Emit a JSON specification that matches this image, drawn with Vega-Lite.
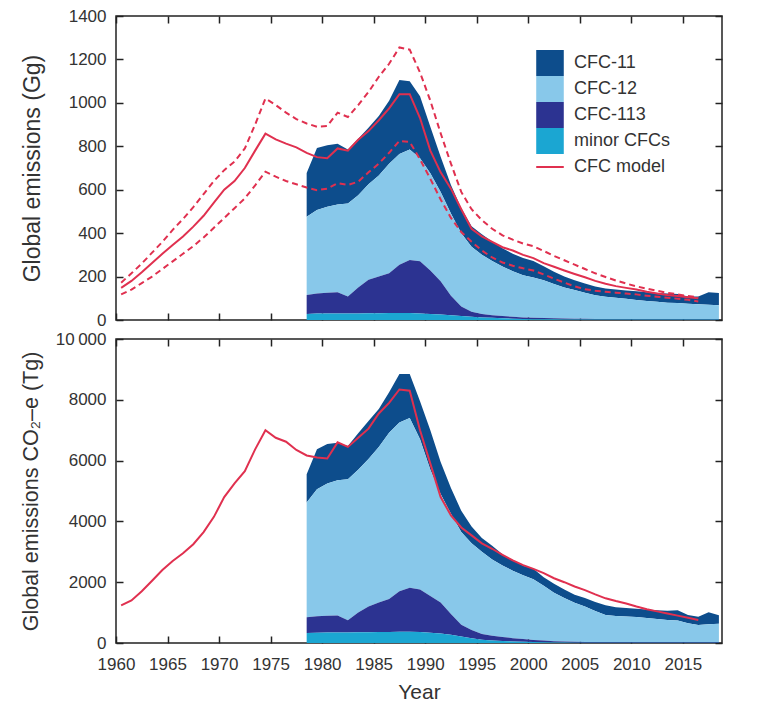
{
  "$schema": "https://vega.github.io/schema/vega-lite/v6.json",
  "padding": {"left": 19, "top": 6, "right": 4, "bottom": 4},
  "background": "white",
  "config": {
    "view": {"stroke": "#222", "strokeWidth": 1.5},
    "font": "Liberation Sans",
    "axis": {
      "grid": false,
      "domain": false,
      "tickColor": "#222",
      "tickWidth": 1.5,
      "tickSize": -7,
      "labelFont": "Liberation Sans",
      "labelFontSize": 17,
      "labelColor": "#333",
      "titleFont": "Liberation Sans",
      "titleFontSize": 20,
      "titleFontWeight": "normal",
      "titleColor": "#333"
    }
  },
  "datasets": {
    "gg": [
      {"year": 1978.5, "minor CFCs": 28, "CFC-113": 87, "CFC-12": 361, "CFC-11": 201},
      {"year": 1979.5, "minor CFCs": 30, "CFC-113": 92, "CFC-12": 385, "CFC-11": 285},
      {"year": 1980.5, "minor CFCs": 30, "CFC-113": 96, "CFC-12": 396, "CFC-11": 283},
      {"year": 1981.5, "minor CFCs": 30, "CFC-113": 98, "CFC-12": 404, "CFC-11": 280},
      {"year": 1982.5, "minor CFCs": 30, "CFC-113": 78, "CFC-12": 429, "CFC-11": 248},
      {"year": 1983.5, "minor CFCs": 30, "CFC-113": 120, "CFC-12": 425, "CFC-11": 260},
      {"year": 1984.5, "minor CFCs": 31, "CFC-113": 154, "CFC-12": 440, "CFC-11": 260},
      {"year": 1985.5, "minor CFCs": 31, "CFC-113": 169, "CFC-12": 465, "CFC-11": 275},
      {"year": 1986.5, "minor CFCs": 32, "CFC-113": 183, "CFC-12": 505, "CFC-11": 290},
      {"year": 1987.5, "minor CFCs": 32, "CFC-113": 223, "CFC-12": 510, "CFC-11": 340},
      {"year": 1988.5, "minor CFCs": 32, "CFC-113": 244, "CFC-12": 509, "CFC-11": 315},
      {"year": 1989.5, "minor CFCs": 30, "CFC-113": 240, "CFC-12": 475, "CFC-11": 285},
      {"year": 1990.5, "minor CFCs": 28, "CFC-113": 200, "CFC-12": 448, "CFC-11": 214},
      {"year": 1991.5, "minor CFCs": 25, "CFC-113": 153, "CFC-12": 412, "CFC-11": 162},
      {"year": 1992.5, "minor CFCs": 22, "CFC-113": 90, "CFC-12": 379, "CFC-11": 131},
      {"year": 1993.5, "minor CFCs": 18, "CFC-113": 44, "CFC-12": 337, "CFC-11": 116},
      {"year": 1994.5, "minor CFCs": 15, "CFC-113": 23, "CFC-12": 299, "CFC-11": 95},
      {"year": 1995.5, "minor CFCs": 12, "CFC-113": 16, "CFC-12": 272, "CFC-11": 95},
      {"year": 1996.5, "minor CFCs": 10, "CFC-113": 12, "CFC-12": 250, "CFC-11": 90},
      {"year": 1997.5, "minor CFCs": 8, "CFC-113": 10, "CFC-12": 228, "CFC-11": 84},
      {"year": 1998.5, "minor CFCs": 6, "CFC-113": 9, "CFC-12": 210, "CFC-11": 80},
      {"year": 1999.5, "minor CFCs": 5, "CFC-113": 7, "CFC-12": 194, "CFC-11": 79},
      {"year": 2000.5, "minor CFCs": 4, "CFC-113": 6, "CFC-12": 186, "CFC-11": 76},
      {"year": 2001.5, "minor CFCs": 3, "CFC-113": 6, "CFC-12": 174, "CFC-11": 65},
      {"year": 2002.5, "minor CFCs": 3, "CFC-113": 5, "CFC-12": 158, "CFC-11": 56},
      {"year": 2003.5, "minor CFCs": 2, "CFC-113": 5, "CFC-12": 143, "CFC-11": 50},
      {"year": 2004.5, "minor CFCs": 2, "CFC-113": 4, "CFC-12": 132, "CFC-11": 45},
      {"year": 2005.5, "minor CFCs": 2, "CFC-113": 4, "CFC-12": 120, "CFC-11": 42},
      {"year": 2006.5, "minor CFCs": 2, "CFC-113": 3, "CFC-12": 109, "CFC-11": 40},
      {"year": 2007.5, "minor CFCs": 2, "CFC-113": 3, "CFC-12": 102, "CFC-11": 38},
      {"year": 2008.5, "minor CFCs": 2, "CFC-113": 3, "CFC-12": 97, "CFC-11": 38},
      {"year": 2009.5, "minor CFCs": 2, "CFC-113": 3, "CFC-12": 93, "CFC-11": 38},
      {"year": 2010.5, "minor CFCs": 2, "CFC-113": 3, "CFC-12": 87, "CFC-11": 40},
      {"year": 2011.5, "minor CFCs": 2, "CFC-113": 3, "CFC-12": 83, "CFC-11": 40},
      {"year": 2012.5, "minor CFCs": 2, "CFC-113": 3, "CFC-12": 79, "CFC-11": 40},
      {"year": 2013.5, "minor CFCs": 2, "CFC-113": 3, "CFC-12": 75, "CFC-11": 42},
      {"year": 2014.5, "minor CFCs": 2, "CFC-113": 3, "CFC-12": 73, "CFC-11": 42},
      {"year": 2015.5, "minor CFCs": 2, "CFC-113": 3, "CFC-12": 70, "CFC-11": 33},
      {"year": 2016.5, "minor CFCs": 2, "CFC-113": 3, "CFC-12": 67, "CFC-11": 36},
      {"year": 2017.5, "minor CFCs": 2, "CFC-113": 3, "CFC-12": 65, "CFC-11": 58},
      {"year": 2018.5, "minor CFCs": 2, "CFC-113": 3, "CFC-12": 63, "CFC-11": 56}
    ],
    "tg": [
      {"year": 1978.5, "minor CFCs": 330, "CFC-113": 520, "CFC-12": 3773, "CFC-11": 928},
      {"year": 1979.5, "minor CFCs": 340, "CFC-113": 540, "CFC-12": 4180, "CFC-11": 1311},
      {"year": 1980.5, "minor CFCs": 345, "CFC-113": 555, "CFC-12": 4350, "CFC-11": 1300},
      {"year": 1981.5, "minor CFCs": 345, "CFC-113": 560, "CFC-12": 4445, "CFC-11": 1240},
      {"year": 1982.5, "minor CFCs": 345, "CFC-113": 405, "CFC-12": 4640, "CFC-11": 1090},
      {"year": 1983.5, "minor CFCs": 350, "CFC-113": 650, "CFC-12": 4700, "CFC-11": 1200},
      {"year": 1984.5, "minor CFCs": 355, "CFC-113": 845, "CFC-12": 4850, "CFC-11": 1250},
      {"year": 1985.5, "minor CFCs": 360, "CFC-113": 970, "CFC-12": 5120, "CFC-11": 1250},
      {"year": 1986.5, "minor CFCs": 365, "CFC-113": 1085, "CFC-12": 5470, "CFC-11": 1330},
      {"year": 1987.5, "minor CFCs": 370, "CFC-113": 1330, "CFC-12": 5550, "CFC-11": 1600},
      {"year": 1988.5, "minor CFCs": 370, "CFC-113": 1450, "CFC-12": 5580, "CFC-11": 1450},
      {"year": 1989.5, "minor CFCs": 360, "CFC-113": 1400, "CFC-12": 4940, "CFC-11": 1250},
      {"year": 1990.5, "minor CFCs": 340, "CFC-113": 1210, "CFC-12": 4150, "CFC-11": 1300},
      {"year": 1991.5, "minor CFCs": 310, "CFC-113": 1020, "CFC-12": 3570, "CFC-11": 1050},
      {"year": 1992.5, "minor CFCs": 270, "CFC-113": 680, "CFC-12": 3300, "CFC-11": 850},
      {"year": 1993.5, "minor CFCs": 210, "CFC-113": 390, "CFC-12": 3050, "CFC-11": 700},
      {"year": 1994.5, "minor CFCs": 160, "CFC-113": 270, "CFC-12": 2850, "CFC-11": 550},
      {"year": 1995.5, "minor CFCs": 110, "CFC-113": 190, "CFC-12": 2700, "CFC-11": 450},
      {"year": 1996.5, "minor CFCs": 85, "CFC-113": 155, "CFC-12": 2510, "CFC-11": 450},
      {"year": 1997.5, "minor CFCs": 65, "CFC-113": 135, "CFC-12": 2350, "CFC-11": 370},
      {"year": 1998.5, "minor CFCs": 50, "CFC-113": 110, "CFC-12": 2220, "CFC-11": 340},
      {"year": 1999.5, "minor CFCs": 40, "CFC-113": 90, "CFC-12": 2100, "CFC-11": 310},
      {"year": 2000.5, "minor CFCs": 30, "CFC-113": 70, "CFC-12": 2000, "CFC-11": 340},
      {"year": 2001.5, "minor CFCs": 25, "CFC-113": 55, "CFC-12": 1800, "CFC-11": 280},
      {"year": 2002.5, "minor CFCs": 20, "CFC-113": 40, "CFC-12": 1590, "CFC-11": 300},
      {"year": 2003.5, "minor CFCs": 15, "CFC-113": 35, "CFC-12": 1430, "CFC-11": 280},
      {"year": 2004.5, "minor CFCs": 12, "CFC-113": 28, "CFC-12": 1280, "CFC-11": 270},
      {"year": 2005.5, "minor CFCs": 10, "CFC-113": 25, "CFC-12": 1165, "CFC-11": 280},
      {"year": 2006.5, "minor CFCs": 10, "CFC-113": 20, "CFC-12": 1020, "CFC-11": 300},
      {"year": 2007.5, "minor CFCs": 10, "CFC-113": 20, "CFC-12": 890, "CFC-11": 320},
      {"year": 2008.5, "minor CFCs": 10, "CFC-113": 20, "CFC-12": 860, "CFC-11": 290},
      {"year": 2009.5, "minor CFCs": 10, "CFC-113": 20, "CFC-12": 840, "CFC-11": 280},
      {"year": 2010.5, "minor CFCs": 10, "CFC-113": 20, "CFC-12": 825, "CFC-11": 270},
      {"year": 2011.5, "minor CFCs": 10, "CFC-113": 20, "CFC-12": 790, "CFC-11": 280},
      {"year": 2012.5, "minor CFCs": 10, "CFC-113": 20, "CFC-12": 760, "CFC-11": 290},
      {"year": 2013.5, "minor CFCs": 10, "CFC-113": 20, "CFC-12": 730, "CFC-11": 300},
      {"year": 2014.5, "minor CFCs": 10, "CFC-113": 20, "CFC-12": 710, "CFC-11": 340},
      {"year": 2015.5, "minor CFCs": 10, "CFC-113": 20, "CFC-12": 620, "CFC-11": 270},
      {"year": 2016.5, "minor CFCs": 10, "CFC-113": 20, "CFC-12": 560, "CFC-11": 270},
      {"year": 2017.5, "minor CFCs": 10, "CFC-113": 20, "CFC-12": 590, "CFC-11": 390},
      {"year": 2018.5, "minor CFCs": 10, "CFC-113": 20, "CFC-12": 600, "CFC-11": 280}
    ],
    "model": [
      {"year": 1960.5, "mid": 148, "lo": 118, "hi": 172, "tg": 1240},
      {"year": 1961.5, "mid": 180, "lo": 140, "hi": 215, "tg": 1400},
      {"year": 1962.5, "mid": 220, "lo": 170, "hi": 260, "tg": 1700},
      {"year": 1963.5, "mid": 262, "lo": 200, "hi": 310, "tg": 2050},
      {"year": 1964.5, "mid": 305, "lo": 235, "hi": 360, "tg": 2400},
      {"year": 1965.5, "mid": 345, "lo": 270, "hi": 415, "tg": 2700},
      {"year": 1966.5, "mid": 385, "lo": 305, "hi": 465, "tg": 2950},
      {"year": 1967.5, "mid": 430, "lo": 340, "hi": 520, "tg": 3250},
      {"year": 1968.5, "mid": 480, "lo": 380, "hi": 580, "tg": 3650},
      {"year": 1969.5, "mid": 540, "lo": 425, "hi": 640, "tg": 4150},
      {"year": 1970.5, "mid": 600, "lo": 470, "hi": 690, "tg": 4800},
      {"year": 1971.5, "mid": 640, "lo": 515, "hi": 730, "tg": 5250},
      {"year": 1972.5, "mid": 700, "lo": 560, "hi": 790, "tg": 5650},
      {"year": 1973.5, "mid": 780, "lo": 620, "hi": 900, "tg": 6370},
      {"year": 1974.5, "mid": 858, "lo": 683, "hi": 1020, "tg": 7000},
      {"year": 1975.5, "mid": 832, "lo": 660, "hi": 990, "tg": 6750},
      {"year": 1976.5, "mid": 812, "lo": 640, "hi": 955, "tg": 6620},
      {"year": 1977.5, "mid": 795, "lo": 625, "hi": 925, "tg": 6350},
      {"year": 1978.5, "mid": 770, "lo": 610, "hi": 905, "tg": 6170},
      {"year": 1979.5, "mid": 750, "lo": 598, "hi": 890, "tg": 6100},
      {"year": 1980.5, "mid": 745, "lo": 605, "hi": 893, "tg": 6070},
      {"year": 1981.5, "mid": 790, "lo": 630, "hi": 955, "tg": 6600},
      {"year": 1982.5, "mid": 780, "lo": 622, "hi": 935, "tg": 6450},
      {"year": 1983.5, "mid": 830, "lo": 637, "hi": 990, "tg": 6750},
      {"year": 1984.5, "mid": 870, "lo": 680, "hi": 1050, "tg": 7050},
      {"year": 1985.5, "mid": 920, "lo": 720, "hi": 1120, "tg": 7550},
      {"year": 1986.5, "mid": 975, "lo": 770, "hi": 1180, "tg": 7900},
      {"year": 1987.5, "mid": 1040, "lo": 825, "hi": 1255, "tg": 8340},
      {"year": 1988.5, "mid": 1040, "lo": 820, "hi": 1245, "tg": 8300},
      {"year": 1989.5, "mid": 930, "lo": 740, "hi": 1140, "tg": 7000},
      {"year": 1990.5, "mid": 780, "lo": 650, "hi": 1010, "tg": 5900},
      {"year": 1991.5, "mid": 680, "lo": 555, "hi": 860, "tg": 4800},
      {"year": 1992.5, "mid": 605, "lo": 470, "hi": 720, "tg": 4200},
      {"year": 1993.5, "mid": 510, "lo": 405, "hi": 590, "tg": 3800},
      {"year": 1994.5, "mid": 420, "lo": 360, "hi": 510, "tg": 3540},
      {"year": 1995.5, "mid": 385, "lo": 320, "hi": 460, "tg": 3280},
      {"year": 1996.5, "mid": 360, "lo": 288, "hi": 420, "tg": 3100},
      {"year": 1997.5, "mid": 335, "lo": 265, "hi": 390, "tg": 2900},
      {"year": 1998.5, "mid": 320, "lo": 250, "hi": 370, "tg": 2720},
      {"year": 1999.5, "mid": 300, "lo": 238, "hi": 352, "tg": 2560},
      {"year": 2000.5, "mid": 285, "lo": 228, "hi": 340, "tg": 2440},
      {"year": 2001.5, "mid": 262, "lo": 210, "hi": 318, "tg": 2300},
      {"year": 2002.5, "mid": 245, "lo": 190, "hi": 295, "tg": 2130},
      {"year": 2003.5, "mid": 228, "lo": 172, "hi": 275, "tg": 2000},
      {"year": 2004.5, "mid": 212, "lo": 155, "hi": 255, "tg": 1860},
      {"year": 2005.5, "mid": 197, "lo": 142, "hi": 235, "tg": 1740},
      {"year": 2006.5, "mid": 180, "lo": 135, "hi": 215, "tg": 1600},
      {"year": 2007.5, "mid": 167, "lo": 130, "hi": 198, "tg": 1470},
      {"year": 2008.5, "mid": 156, "lo": 126, "hi": 182, "tg": 1380},
      {"year": 2009.5, "mid": 148, "lo": 122, "hi": 168, "tg": 1300},
      {"year": 2010.5, "mid": 140, "lo": 118, "hi": 155, "tg": 1200},
      {"year": 2011.5, "mid": 130, "lo": 112, "hi": 144, "tg": 1110},
      {"year": 2012.5, "mid": 122, "lo": 107, "hi": 135, "tg": 1040},
      {"year": 2013.5, "mid": 115, "lo": 103, "hi": 125, "tg": 970},
      {"year": 2014.5, "mid": 110, "lo": 98, "hi": 118, "tg": 900},
      {"year": 2015.5, "mid": 105, "lo": 93, "hi": 110, "tg": 830},
      {"year": 2016.5, "mid": 100, "lo": 85, "hi": 105, "tg": 760}
    ]
  },
  "spacing": 0,
  "resolve": {"scale": {"color": "independent"}},
  "vconcat": [
    {
      "width": 606,
      "height": 304,
      "resolve": {"axis": {"x": "independent", "y": "independent"}},
      "layer": [
        {
          "data": {"name": "gg"},
          "transform": [
            {"fold": ["CFC-11", "CFC-12", "CFC-113", "minor CFCs"], "as": ["species", "gg"]},
            {"calculate": "indexof(['minor CFCs', 'CFC-113', 'CFC-12', 'CFC-11'], datum.species)", "as": "rank"}
          ],
          "mark": {"type": "area"},
          "encoding": {
            "x": {
              "field": "year", "type": "quantitative",
              "scale": {"domain": [1960, 2018.8], "nice": false, "zero": false},
              "axis": {"orient": "bottom", "labels": false, "title": null,
                       "values": [1960, 1965, 1970, 1975, 1980, 1985, 1990, 1995, 2000, 2005, 2010, 2015]}
            },
            "y": {
              "field": "gg", "type": "quantitative", "stack": "zero",
              "scale": {"domain": [0, 1400], "nice": false},
              "axis": {"orient": "left", "title": "Global emissions (Gg)", "format": "d",
                       "titleFontSize": 23,
                       "values": [0, 200, 400, 600, 800, 1000, 1200, 1400],
                       "labelPadding": 17, "minExtent": 64, "maxExtent": 64, "titlePadding": 8}
            },
            "color": {
              "field": "species", "type": "nominal",
              "scale": {
                "domain": ["CFC-11", "CFC-12", "CFC-113", "minor CFCs", "CFC model"],
                "range": ["#0d4d8c", "#88c8ea", "#2c3391", "#1ba6d2", "#e0304f"]
              },
              "legend": {
                "orient": "none", "legendX": 419, "legendY": 34, "title": null,
                "padding": 0, "rowPadding": 0, "clipHeight": 26, "symbolType": "square", "symbolSize": 760,
                "symbolStrokeWidth": 0, "labelFont": "Liberation Sans", "labelFontSize": 18,
                "labelColor": "#333", "labelOffset": 9,
                "encode": {
                  "symbols": {
                    "update": {
                      "shape": {"signal": "datum.value === 'CFC model' ? 'stroke' : 'square'"},
                      "stroke": {"signal": "datum.value === 'CFC model' ? '#e0304f' : 'transparent'"},
                      "strokeWidth": {"value": 2}
                    }
                  }
                }
              }
            },
            "order": {"field": "rank", "type": "quantitative"}
          }
        },
        {
          "data": {"name": "model"},
          "transform": [{"fold": ["lo", "hi"], "as": ["bound", "bgg"]}],
          "mark": {"type": "line", "color": "#e0304f", "strokeWidth": 2, "strokeDash": [6, 4]},
          "encoding": {
            "x": {
              "field": "year", "type": "quantitative",
              "axis": {"orient": "top", "labels": false, "title": null,
                       "values": [1960, 1965, 1970, 1975, 1980, 1985, 1990, 1995, 2000, 2005, 2010, 2015]}
            },
            "y": {
              "field": "bgg", "type": "quantitative",
              "axis": {"orient": "right", "labels": false, "title": null, "minExtent": 0,
                       "values": [0, 200, 400, 600, 800, 1000, 1200, 1400]}
            },
            "detail": {"field": "bound"}
          }
        },
        {
          "data": {"name": "model"},
          "mark": {"type": "line", "color": "#e0304f", "strokeWidth": 2},
          "encoding": {
            "x": {"field": "year", "type": "quantitative", "axis": null},
            "y": {"field": "mid", "type": "quantitative", "axis": null}
          }
        }
      ]
    },
    {
      "width": 606,
      "height": 304,
      "resolve": {"axis": {"x": "independent", "y": "independent"}},
      "layer": [
        {
          "data": {"name": "tg"},
          "transform": [
            {"fold": ["CFC-11", "CFC-12", "CFC-113", "minor CFCs"], "as": ["species", "tg"]},
            {"calculate": "indexof(['minor CFCs', 'CFC-113', 'CFC-12', 'CFC-11'], datum.species)", "as": "rank"}
          ],
          "mark": {"type": "area"},
          "encoding": {
            "x": {
              "field": "year", "type": "quantitative",
              "scale": {"domain": [1960, 2018.8], "nice": false, "zero": false},
              "axis": {"orient": "bottom", "title": "Year", "format": "d", "labelPadding": 20, "titlePadding": 9,
                       "labelOverlap": false, "labelFlush": false, "titleFontSize": 21,
                       "values": [1960, 1965, 1970, 1975, 1980, 1985, 1990, 1995, 2000, 2005, 2010, 2015]}
            },
            "y": {
              "field": "tg", "type": "quantitative", "stack": "zero",
              "scale": {"domain": [0, 10000], "nice": false},
              "axis": {"orient": "left", "title": "Global emissions CO₂–e  (Tg)", "format": "d",
                       "titleFontSize": 21.5,
                       "labelExpr": "datum.value === 10000 ? '10\u2009000' : datum.label",
                       "values": [0, 2000, 4000, 6000, 8000, 10000],
                       "labelPadding": 17, "minExtent": 64, "maxExtent": 64, "titlePadding": 10}
            },
            "color": {
              "field": "species", "type": "nominal",
              "scale": {
                "domain": ["CFC-11", "CFC-12", "CFC-113", "minor CFCs"],
                "range": ["#0d4d8c", "#88c8ea", "#2c3391", "#1ba6d2"]
              },
              "legend": null
            },
            "order": {"field": "rank", "type": "quantitative"}
          }
        },
        {
          "data": {"name": "model"},
          "mark": {"type": "line", "color": "#e0304f", "strokeWidth": 2},
          "encoding": {
            "x": {
              "field": "year", "type": "quantitative",
              "axis": {"orient": "top", "labels": false, "title": null,
                       "values": [1960, 1965, 1970, 1975, 1980, 1985, 1990, 1995, 2000, 2005, 2010, 2015]}
            },
            "y": {
              "field": "tg", "type": "quantitative",
              "axis": {"orient": "right", "labels": false, "title": null, "minExtent": 0,
                       "values": [0, 2000, 4000, 6000, 8000, 10000]}
            }
          }
        }
      ]
    }
  ]
}
